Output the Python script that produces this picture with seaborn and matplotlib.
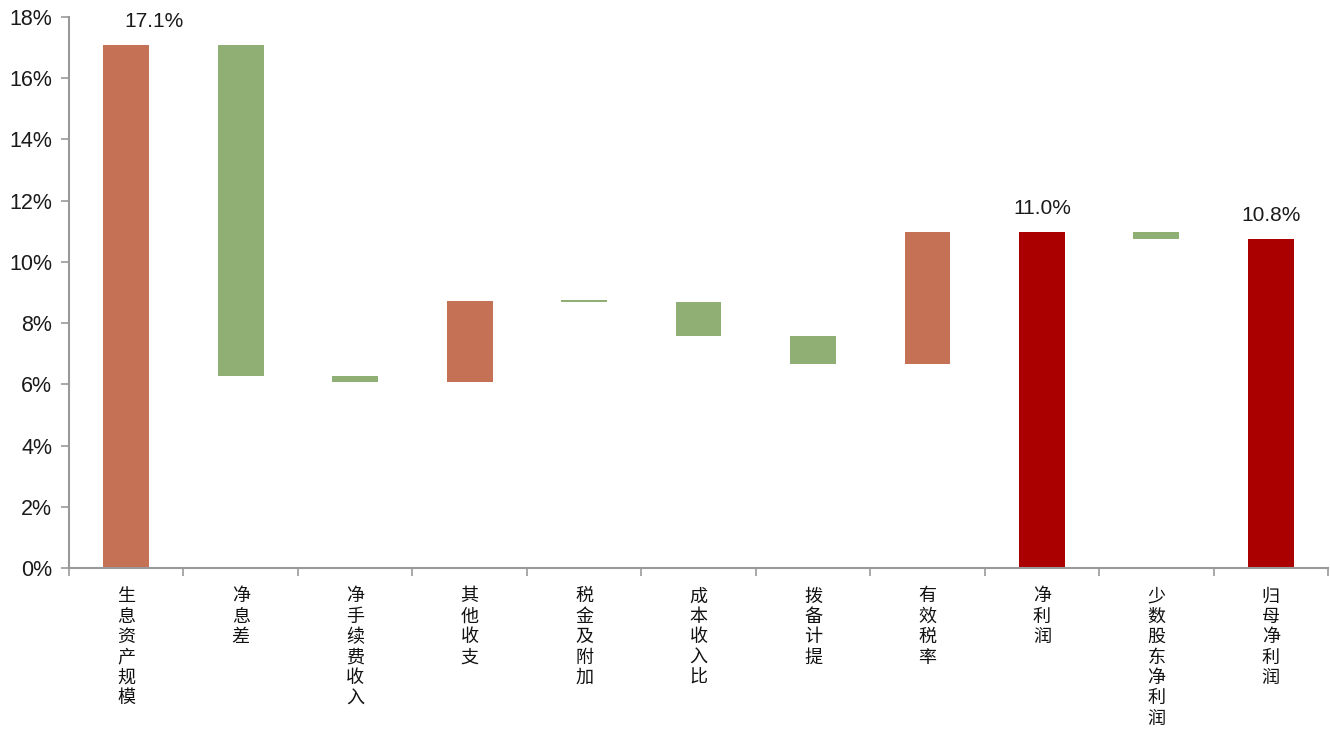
import matplotlib
matplotlib.use("Agg")
import matplotlib.pyplot as plt
from matplotlib.ticker import FixedLocator, FuncFormatter
import seaborn as sns
import pandas as pd

categories = ["生息资产规模", "净息差", "净手续费收入", "其他收支", "税金及附加", "成本收入比",
              "拨备计提", "有效税率", "净利润", "少数股东净利润", "归母净利润"]
bar_start = [0.0, 17.10, 6.28, 6.06, 8.71, 8.68, 7.59, 6.66, 0.0, 10.98, 0.0]
bar_end = [17.10, 6.28, 6.06, 8.71, 8.68, 7.59, 6.66, 10.98, 10.98, 10.75, 10.75]
bar_kind = ["up", "down", "down", "up", "down", "down", "down", "up", "total", "down", "total"]
value_labels = {0: "17.1%", 8: "11.0%", 10: "10.8%"}
yticks = [0, 2, 4, 6, 8, 10, 12, 14, 16, 18]

colors = {"up": "#C57155", "down": "#8FAF74", "total": "#AA0000"}

sns.set_theme(style="white")
plt.rcParams["font.family"] = ["Liberation Sans", "Noto Sans CJK SC", "DejaVu Sans"]

fig = plt.figure(figsize=(13.3, 7.31), dpi=100)
ax = fig.add_axes([0.0519, 0.223, 0.9466, 0.7537])

df = pd.DataFrame({"cat": categories, "top": [max(a, b) for a, b in zip(bar_start, bar_end)]})
sns.barplot(data=df, x="cat", y="top", color="#8FAF74", width=0.4, ax=ax, saturation=1)

for i, p in enumerate(ax.patches):
    lo = min(bar_start[i], bar_end[i])
    hi = max(bar_start[i], bar_end[i])
    p.set_y(lo)
    p.set_height(max(hi - lo, 0.07))
    p.set_facecolor(colors[bar_kind[i]])
    p.set_edgecolor("none")

label_dx = {0: 20}
for i, txt in value_labels.items():
    top = max(bar_start[i], bar_end[i])
    ax.annotate(txt, (i, top), xytext=(label_dx.get(i, 0), 10), textcoords="offset points",
                ha="center", va="bottom", fontsize=15, color="#1a1a1a",
                family=["Liberation Sans", "DejaVu Sans"])

ax.set_ylim(0, 18)
ax.set_xlim(-0.5, len(categories) - 0.5)
ax.yaxis.set_major_locator(FixedLocator(yticks))
ax.yaxis.set_major_formatter(FuncFormatter(lambda v, _: f"{int(v)}%"))
ax.set_xlabel("")
ax.set_ylabel("")

ax.set_xticks(range(len(categories)))
ax.set_xticklabels(["\n".join(c) for c in categories], fontsize=13,
                   family=["Noto Sans CJK SC", "DejaVu Sans"], linespacing=1.17,
                   va="top", color="#111111")
ax.set_xticks([i - 0.5 for i in range(len(categories) + 1)], minor=True)
ax.tick_params(axis="x", which="major", length=0, pad=14)
ax.tick_params(axis="x", which="minor", length=6, width=1.2, color="#999999", direction="out", bottom=True)
ax.tick_params(axis="y", which="major", length=6, width=1.2, color="#999999", direction="out",
               left=True, labelsize=15.5, labelcolor="#1a1a1a", pad=6)

for s in ["top", "right"]:
    ax.spines[s].set_visible(False)
for s in ["left", "bottom"]:
    ax.spines[s].set_color("#999999")
    ax.spines[s].set_linewidth(1.5)

fig.savefig("out.png", dpi=100)
